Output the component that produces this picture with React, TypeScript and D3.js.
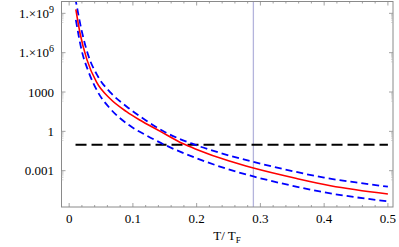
import { useRef, useEffect } from 'react';
import * as d3 from 'd3';

// T/T_F values and log10 of the plotted quantity
const RED_T = [0.0105, 0.017, 0.028, 0.043, 0.064, 0.09, 0.11, 0.143, 0.179, 0.2, 0.25, 0.289, 0.357, 0.41, 0.5];
const RED_LOG = [9.3, 7.5, 5.45, 3.75, 2.5, 1.5, 0.88, 0.0, -0.95, -1.38, -2.25, -2.8, -3.6, -4.15, -4.78];

const UPPER_T = [0.0095, 0.02, 0.03, 0.045, 0.065, 0.09, 0.12, 0.15, 0.198, 0.25, 0.289, 0.35, 0.4, 0.45, 0.5];
const UPPER_LOG = [10.2, 7.6, 5.8, 4.2, 2.95, 1.9, 0.85, -0.05, -1.03, -1.83, -2.33, -3.03, -3.53, -3.9, -4.22];

const LOWER_T = [0.0105, 0.02, 0.03, 0.045, 0.065, 0.0956, 0.12, 0.15, 0.2, 0.25, 0.289, 0.35, 0.4, 0.45, 0.5];
const LOWER_LOG = [8.5, 6.1, 4.6, 3.0, 1.7, 0.42, -0.28, -1.03, -2.05, -2.9, -3.44, -4.15, -4.65, -5.03, -5.34];

const THRESHOLD = 0.093;
const THRESHOLD_T = [0.01, 0.5];
const MARK_T = 0.289;

const X_TICKS = [0, 0.1, 0.2, 0.3, 0.4, 0.5];
const Y_TICKS = [1e-3, 1, 1e3, 1e6, 1e9];

const W = 399;
const H = 247;

export default function App() {
  const ref = useRef<SVGSVGElement>(null);

  useEffect(() => {
    if (!ref.current) return;
    const svg = d3.select(ref.current);
    svg.selectAll('*').remove();

    const left = 61.5, right = 393, top = 1.5, bottom = 207;
    const x = d3.scaleLinear().domain([-0.012, 0.508]).range([left, right]);
    const y = d3.scaleLog().domain([Math.pow(10, -5.77), Math.pow(10, 9.903)]).range([bottom, top]);
    const font = "'Liberation Serif', 'Times New Roman', 'DejaVu Serif', serif";
    const frameColor = '#8a8a8a';

    svg.append('rect').attr('width', W).attr('height', H).attr('fill', 'white');

    svg.append('clipPath').attr('id', 'plot-clip')
      .append('rect').attr('x', left).attr('y', top)
      .attr('width', right - left).attr('height', bottom - top);

    const plot = svg.append('g').attr('clip-path', 'url(#plot-clip)');

    // vertical marker
    plot.append('line')
      .attr('x1', x(MARK_T)).attr('x2', x(MARK_T))
      .attr('y1', top).attr('y2', bottom)
      .attr('stroke', '#b4b4dc').attr('stroke-width', 1.3);

    // threshold
    plot.append('line')
      .attr('x1', x(THRESHOLD_T[0])).attr('x2', x(THRESHOLD_T[1]))
      .attr('y1', y(THRESHOLD)).attr('y2', y(THRESHOLD))
      .attr('stroke', '#000').attr('stroke-width', 2)
      .attr('stroke-dasharray', '11,5');

    const line = (ts: number[], logs: number[]) =>
      d3.line<number>()
        .x((_, i) => x(ts[i]))
        .y((_, i) => y(Math.pow(10, logs[i])))
        .curve(d3.curveMonotoneX)(ts) ?? '';

    plot.append('path').attr('d', line(UPPER_T, UPPER_LOG))
      .attr('fill', 'none').attr('stroke', '#0000ff').attr('stroke-width', 1.8)
      .attr('stroke-dasharray', '7,4');
    plot.append('path').attr('d', line(LOWER_T, LOWER_LOG))
      .attr('fill', 'none').attr('stroke', '#0000ff').attr('stroke-width', 1.8)
      .attr('stroke-dasharray', '7,4');
    plot.append('path').attr('d', line(RED_T, RED_LOG))
      .attr('fill', 'none').attr('stroke', '#ff0000').attr('stroke-width', 1.6);

    // frame
    svg.append('rect')
      .attr('x', left).attr('y', top)
      .attr('width', right - left).attr('height', bottom - top)
      .attr('fill', 'none').attr('stroke', frameColor).attr('stroke-width', 1);

    const ticks = svg.append('g').attr('stroke', frameColor).attr('stroke-width', 0.8);

    // x ticks, top and bottom
    const xMinor = d3.range(0, 0.5001, 0.02).filter(v => X_TICKS.every(t => Math.abs(t - v) > 1e-6));
    X_TICKS.forEach(v => {
      ticks.append('line').attr('x1', x(v)).attr('x2', x(v)).attr('y1', bottom).attr('y2', bottom - 4);
      ticks.append('line').attr('x1', x(v)).attr('x2', x(v)).attr('y1', top).attr('y2', top + 4);
    });
    xMinor.forEach(v => {
      ticks.append('line').attr('x1', x(v)).attr('x2', x(v)).attr('y1', bottom).attr('y2', bottom - 2);
      ticks.append('line').attr('x1', x(v)).attr('x2', x(v)).attr('y1', top).attr('y2', top + 2);
    });

    // y ticks, left and right
    Y_TICKS.forEach(v => {
      ticks.append('line').attr('x1', left).attr('x2', left + 4).attr('y1', y(v)).attr('y2', y(v));
      ticks.append('line').attr('x1', right).attr('x2', right - 4).attr('y1', y(v)).attr('y2', y(v));
      d3.range(2, 10).forEach(m => {
        const yy = y((m * v) / 10);
        ticks.append('line').attr('x1', left).attr('x2', left + 2).attr('y1', yy).attr('y2', yy)
          .attr('stroke-width', 0.5).attr('stroke', '#b0b0b0');
        ticks.append('line').attr('x1', right).attr('x2', right - 2).attr('y1', yy).attr('y2', yy)
          .attr('stroke-width', 0.5).attr('stroke', '#b0b0b0');
      });
    });

    // x labels
    svg.append('g').selectAll('text').data(X_TICKS).join('text')
      .attr('x', d => x(d)).attr('y', 223)
      .attr('text-anchor', 'middle')
      .style('font-family', font).style('font-size', '13px').attr('fill', '#000')
      .text(d => (d === 0 ? '0' : d3.format('.1f')(d)));

    // y labels
    Y_TICKS.forEach(v => {
      const exp = Math.round(Math.log10(v));
      const t = svg.append('text')
        .attr('x', 54).attr('y', y(v) + 4.5)
        .attr('text-anchor', 'end')
        .style('font-family', font).style('font-size', '13px').attr('fill', '#000');
      if (exp >= 6) {
        t.append('tspan').text('1.\u00d710');
        t.append('tspan').attr('dy', -5).style('font-size', '10px').text(String(exp));
      } else {
        t.text(v < 1 ? '0.001' : String(v));
      }
    });

    // axis title
    const title = svg.append('text')
      .attr('x', 227).attr('y', 240)
      .attr('text-anchor', 'middle')
      .style('font-family', font).style('font-size', '13px').attr('fill', '#000');
    title.append('tspan').text('T/ T');
    title.append('tspan').attr('dy', 3).style('font-size', '9px').text('F');
  }, []);

  return (
    <svg ref={ref} width={W} height={H}
      style={{ position: 'absolute', left: 0, top: 0, display: 'block' }} />
  );
}
